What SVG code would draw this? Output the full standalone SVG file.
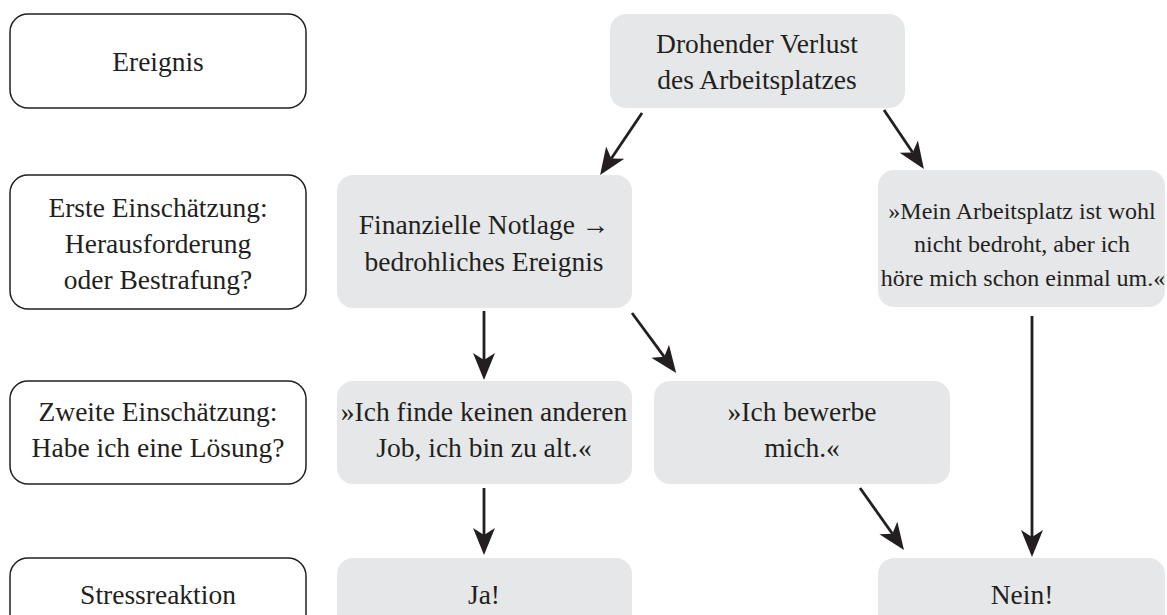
<svg xmlns="http://www.w3.org/2000/svg" width="1167" height="615" viewBox="0 0 1167 615">
<style>
.lbl{fill:#fff;stroke:#231f20;stroke-width:1.5}
.box{fill:#e6e7e8}
.t text{font-size:27.5px;fill:#231f20;text-anchor:middle}
.t .s{font-size:24px}
.c{stroke:#231f20;stroke-width:2.8;fill:none;marker-end:url(#ah)}
</style>
<defs>
<marker id="ah" markerUnits="userSpaceOnUse" viewBox="0 -12 28 24" refX="7" refY="0" markerWidth="28" markerHeight="24" orient="auto">
<path d="M27,0 L0,-11 L7,0 L0,11 Z" fill="#231f20"/>
</marker>
</defs>
<g class="t" font-family="'Liberation Serif', 'DejaVu Serif', serif">
<g id="n-ereignis"><rect class="lbl" x="10" y="14" width="296" height="94" rx="18"/><text x="158" y="71">Ereignis</text></g>
<g id="n-erste"><rect class="lbl" x="10" y="175" width="296" height="134" rx="18"/><text x="158" y="217">Erste Einschätzung:</text><text x="158" y="253">Herausforderung</text><text x="158" y="289">oder Bestrafung?</text></g>
<g id="n-zweite"><rect class="lbl" x="10" y="381" width="296" height="103" rx="18"/><text x="158" y="421">Zweite Einschätzung:</text><text x="158" y="457">Habe ich eine Lösung?</text></g>
<g id="n-stress"><rect class="lbl" x="10" y="558" width="296" height="80" rx="18"/><text x="158" y="604">Stressreaktion</text></g>
<g id="n-drohender"><rect class="box" x="610" y="14" width="295" height="94" rx="16"/><text x="757" y="53">Drohender Verlust</text><text x="757" y="89">des Arbeitsplatzes</text></g>
<g id="n-finanz"><rect class="box" x="337" y="175" width="295" height="133" rx="16"/><text x="484" y="234">Finanzielle Notlage →</text><text x="484" y="271">bedrohliches Ereignis</text></g>
<g id="n-mein"><rect class="box" x="878" y="170" width="287" height="137" rx="16"/><text class="s" x="1022" y="219">»Mein Arbeitsplatz ist wohl</text><text class="s" x="1022" y="252">nicht bedroht, aber ich</text><text class="s" x="1023" y="286">höre mich schon einmal um.«</text></g>
<g id="n-finde"><rect class="box" x="337" y="381" width="295" height="103" rx="16"/><text x="484" y="421">»Ich finde keinen anderen</text><text x="484" y="457">Job, ich bin zu alt.«</text></g>
<g id="n-bewerbe"><rect class="box" x="654" y="381" width="296" height="103" rx="16"/><text x="802" y="421">»Ich bewerbe</text><text x="802" y="457">mich.«</text></g>
<g id="n-ja"><rect class="box" x="337" y="558" width="295" height="80" rx="16"/><text x="484" y="604">Ja!</text></g>
<g id="n-nein"><rect class="box" x="878" y="558" width="287" height="80" rx="16"/><text x="1022" y="604">Nein!</text></g>
</g>
<g id="connectors">
<line class="c" x1="642" y1="113" x2="611.3" y2="158.5"/>
<line class="c" x1="884" y1="110" x2="912.7" y2="152.5"/>
<line class="c" x1="484" y1="311" x2="484" y2="360"/>
<line class="c" x1="632" y1="313" x2="664.3" y2="356.8"/>
<line class="c" x1="1032" y1="316" x2="1032" y2="537"/>
<line class="c" x1="484" y1="488" x2="484" y2="535"/>
<line class="c" x1="860" y1="488" x2="892.4" y2="533.7"/>
</g>
</svg>
